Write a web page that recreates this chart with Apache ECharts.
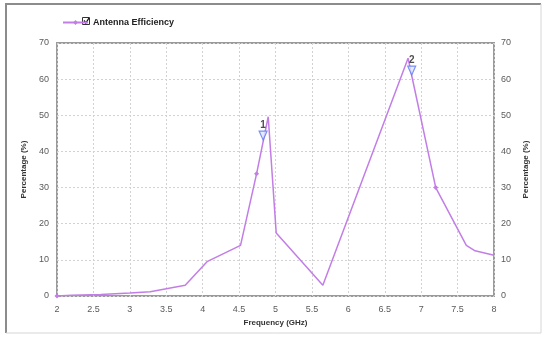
<!DOCTYPE html>
<html>
<head>
<meta charset="utf-8">
<script src="https://cdn.jsdelivr.net/npm/echarts@6/dist/echarts.min.js"></script>
<style>
  html, body { margin: 0; padding: 0; background: #fff; }
  #chart { width: 543px; height: 340px; }
</style>
</head>
<body>
<div id="chart"></div>
<script>
// Antenna efficiency versus frequency
const freqGHz = [2.0, 2.2, 2.6, 3.0, 3.28, 3.76, 4.06, 4.52, 4.74, 4.90, 5.01, 5.65, 6.82, 6.87, 7.20, 7.62, 7.74, 8.0];
const efficiency = [0.0, 0.2, 0.4, 0.8, 1.2, 3.0, 9.5, 14.0, 33.8, 49.6, 17.4, 3.0, 65.8, 61.0, 30.0, 14.0, 12.5, 11.3];
// indices of samples drawn with a point symbol
const symbolIdx = [0, 8, 14];

// numbered markers placed on the curve
const markerNames = ['1', '2'];
const markerFreq = [4.83, 6.87];
const markerValue = [43.0, 61.0];

const xTicks = [2, 2.5, 3, 3.5, 4, 4.5, 5, 5.5, 6, 6.5, 7, 7.5, 8];
const yTicks = [0, 10, 20, 30, 40, 50, 60, 70];

const lineColor = '#c27ee6';
const labelColor = '#5a5a5a';
const labelFont = 'Liberation Sans, Arial, sans-serif';
const gridLine = { show: true, lineStyle: { color: '#d2d2d2', type: [2, 2], width: 1 } };

const seriesData = freqGHz.map((f, i) => ({
  value: [f, efficiency[i]],
  symbolSize: symbolIdx.includes(i) ? 5 : 0
}));
const markerData = markerNames.map((n, i) => ({ name: n, value: [markerFreq[i], markerValue[i]] }));

const yAxisCommon = {
  type: 'value', min: yTicks[0], max: yTicks[yTicks.length - 1], interval: 10,
  name: 'Percentage (%)', nameLocation: 'middle', nameRotate: 90,
  nameTextStyle: { fontSize: 8, fontWeight: 'bold', color: '#333', fontFamily: labelFont },
  axisLine: { show: false }, axisTick: { show: false },
  axisLabel: { fontSize: 9, color: labelColor, fontFamily: labelFont },
  splitLine: gridLine
};

const chart = echarts.init(document.getElementById('chart'), null, { renderer: 'canvas' });
chart.setOption({
  animation: false,
  backgroundColor: '#fff',
  grid: { left: 57, right: 49, top: 43, bottom: 44, show: true, borderColor: '#9a9a9a', borderWidth: 2, backgroundColor: 'transparent' },
  legend: {
    left: 57, top: 13, itemWidth: 25, itemHeight: 6, itemGap: 4,
    data: ['Antenna Efficiency'],
    textStyle: { fontSize: 9, fontWeight: 'bold', color: '#222', fontFamily: labelFont, padding: [0, 0, 0, 0] }
  },
  xAxis: {
    type: 'value', min: 2, max: 8, interval: 0.5,
    name: 'Frequency (GHz)', nameLocation: 'middle', nameGap: 23,
    nameTextStyle: { fontSize: 8, fontWeight: 'bold', color: '#333', fontFamily: labelFont },
    axisLine: { show: false }, axisTick: { show: false },
    axisLabel: { fontSize: 9, color: labelColor, fontFamily: labelFont, margin: 9,
      formatter: v => xTicks.includes(v) ? String(v) : '' },
    splitLine: gridLine
  },
  yAxis: [
    Object.assign({}, yAxisCommon, { position: 'left', nameGap: 26, axisLabel: Object.assign({}, yAxisCommon.axisLabel, { margin: 8 }) }),
    Object.assign({}, yAxisCommon, { position: 'right', nameGap: 24, splitLine: { show: false }, axisLabel: Object.assign({}, yAxisCommon.axisLabel, { margin: 7 }) })
  ],
  series: [
    {
      name: 'Antenna Efficiency', type: 'line', yAxisIndex: 0,
      data: seriesData, symbol: 'diamond', symbolSize: 5, showAllSymbol: true,
      lineStyle: { color: lineColor, width: 1.5 },
      itemStyle: { color: lineColor },
      z: 3
    },
    {
      name: 'markers', type: 'scatter', yAxisIndex: 0,
      data: markerData,
      symbol: 'triangle', symbolRotate: 180, symbolSize: [8, 9], symbolOffset: [0, -5],
      itemStyle: { color: '#dfe6ff', borderColor: '#5b78f0', borderWidth: 1.2 },
      label: { show: true, position: 'top', distance: 0, formatter: p => p.name,
        fontSize: 10, fontWeight: 'bold', color: '#222', fontFamily: labelFont },
      z: 4
    }
  ],
  graphic: [
    // outer frame: darker top/left, lighter bottom/right
    { type: 'polyline', shape: { points: [[6, 333], [6, 4], [541, 4]] }, style: { stroke: '#8c8c8c', lineWidth: 2, fill: null } },
    { type: 'polyline', shape: { points: [[541, 4], [541, 333], [6, 333]] }, style: { stroke: '#d6d6d6', lineWidth: 1, fill: null } },
    // checkbox next to the legend entry
    { type: 'rect', shape: { x: 82.5, y: 17.5, width: 7, height: 7 }, style: { fill: '#fff', stroke: '#333', lineWidth: 1 } },
    { type: 'polyline', shape: { points: [[84, 20.5], [85.8, 23], [89, 18]] }, style: { stroke: '#111', lineWidth: 1.3, fill: null } }
  ]
});
</script>
</body>
</html>
